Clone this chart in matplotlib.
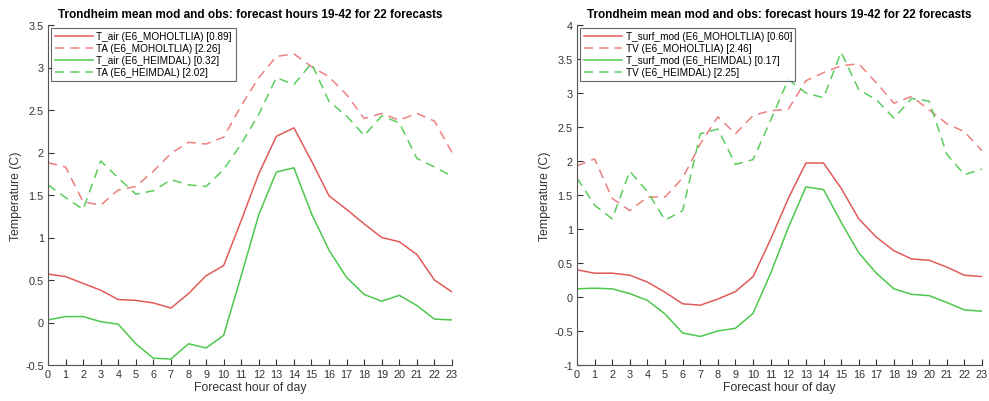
import numpy as np
import matplotlib.pyplot as plt

hours = np.arange(24)

# left panel: 2 m air temperature, model vs road station obs
t_air_moh = [0.57, 0.54, 0.46, 0.38, 0.27, 0.26, 0.23, 0.17, 0.34, 0.55, 0.67, 1.20,
             1.75, 2.19, 2.29, 1.90, 1.49, 1.33, 1.16, 1.00, 0.95, 0.80, 0.50, 0.36]
ta_moh = [1.88, 1.83, 1.42, 1.38, 1.56, 1.60, 1.78, 1.99, 2.12, 2.10, 2.18, 2.55,
          2.88, 3.13, 3.16, 3.01, 2.89, 2.68, 2.40, 2.46, 2.38, 2.46, 2.37, 2.00]
t_air_hei = [0.03, 0.07, 0.07, 0.01, -0.02, -0.25, -0.42, -0.43, -0.25, -0.30, -0.15, 0.55,
             1.27, 1.77, 1.82, 1.28, 0.85, 0.53, 0.33, 0.25, 0.32, 0.20, 0.04, 0.03]
ta_hei = [1.62, 1.47, 1.33, 1.90, 1.70, 1.51, 1.55, 1.68, 1.62, 1.60, 1.80, 2.10,
          2.45, 2.88, 2.80, 3.05, 2.60, 2.43, 2.20, 2.43, 2.35, 1.93, 1.83, 1.72]

# right panel: road surface temperature, model vs obs
ts_moh = [0.40, 0.35, 0.35, 0.32, 0.22, 0.07, -0.10, -0.12, -0.03, 0.08, 0.30, 0.85,
          1.45, 1.97, 1.97, 1.60, 1.15, 0.88, 0.68, 0.56, 0.54, 0.44, 0.32, 0.30]
tv_moh = [1.93, 2.03, 1.45, 1.27, 1.47, 1.47, 1.75, 2.25, 2.65, 2.40, 2.67, 2.74,
          2.76, 3.18, 3.30, 3.40, 3.43, 3.15, 2.85, 2.95, 2.75, 2.55, 2.43, 2.15]
ts_hei = [0.12, 0.13, 0.12, 0.05, -0.05, -0.25, -0.53, -0.58, -0.50, -0.46, -0.24, 0.35,
          1.02, 1.62, 1.58, 1.10, 0.65, 0.35, 0.12, 0.04, 0.02, -0.08, -0.19, -0.21]
tv_hei = [1.75, 1.35, 1.15, 1.85, 1.55, 1.13, 1.27, 2.40, 2.47, 1.95, 2.02, 2.60,
          3.20, 3.00, 2.93, 3.60, 3.05, 2.90, 2.63, 2.92, 2.88, 2.10, 1.80, 1.88]

left_labels = ['T_air (E6_MOHOLTLIA) [0.89]', 'TA (E6_MOHOLTLIA) [2.26]',
               'T_air (E6_HEIMDAL) [0.32]', 'TA (E6_HEIMDAL) [2.02]']
right_labels = ['T_surf_mod (E6_MOHOLTLIA) [0.60]', 'TV (E6_MOHOLTLIA) [2.46]',
                'T_surf_mod (E6_HEIMDAL) [0.17]', 'TV (E6_HEIMDAL) [2.25]']
title = 'Trondheim mean mod and obs: forecast hours 19-42 for 22 forecasts'

red = '#e25a5a'
red_d = '#ec8080'
green = '#4cc84c'
green_d = '#5ccc5c'
txt = '#333333'

plt.rcParams['font.family'] = 'Liberation Sans'

fig = plt.figure(figsize=(9.89, 4.02), dpi=100)
ax1 = fig.add_axes([48 / 989, 36 / 402, 404 / 989, 340 / 402])
ax2 = fig.add_axes([577 / 989, 36 / 402, 405 / 989, 340 / 402])


def panel(ax, series, labels, ylim, yticks):
    styles = [(red, '-'), (red_d, '--'), (green, '-'), (green_d, '--')]
    for s, (c, ls), lab in zip(series, styles, labels):
        ax.plot(hours, s, color=c, ls=ls, lw=1.1, label=lab,
                dashes=(6, 4) if ls == '--' else (None, None))
    ax.set_xlim(0, 23)
    ax.set_ylim(*ylim)
    ax.set_xticks(hours)
    ax.set_yticks(yticks)
    ax.set_yticklabels(['%g' % v for v in yticks])
    ax.tick_params(direction='in', length=4, labelsize=7.8, colors=txt, pad=3)
    for sp in ['top', 'right']:
        ax.spines[sp].set_visible(False)
    for sp in ['left', 'bottom']:
        ax.spines[sp].set_color('#555555')
    ax.set_xlabel('Forecast hour of day', fontsize=8.8, color=txt, labelpad=1)
    ax.set_ylabel('Temperature (C)', fontsize=8.8, color=txt, labelpad=2)
    ax.set_title(title, fontsize=8.5, fontweight='bold', pad=6)
    leg = ax.legend(loc='upper left', fontsize=7.2, frameon=True, fancybox=False,
                    borderaxespad=0.3, handlelength=3.8, labelspacing=0.2,
                    borderpad=0.35, handletextpad=0.4)
    leg.get_frame().set_edgecolor('#444444')
    leg.get_frame().set_linewidth(0.8)


panel(ax1, [t_air_moh, ta_moh, t_air_hei, ta_hei], left_labels,
      (-0.5, 3.5), np.arange(-0.5, 3.51, 0.5))
panel(ax2, [ts_moh, tv_moh, ts_hei, tv_hei], right_labels,
      (-1, 4), np.arange(-1, 4.01, 0.5))

fig.savefig('out.png', dpi=100)
